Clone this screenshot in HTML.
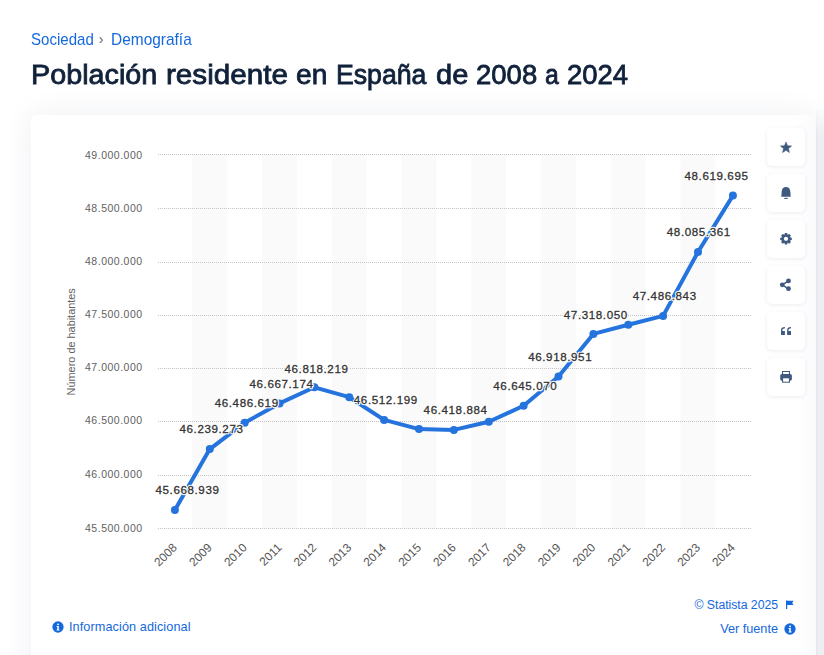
<!DOCTYPE html>
<html><head><meta charset="utf-8"><style>
html,body{margin:0;padding:0;background:#fff;width:824px;height:655px;overflow:hidden;position:relative;font-family:"Liberation Sans",sans-serif;}
.crumb{position:absolute;left:0;top:0;width:300px;height:60px;font-size:16.2px;color:#1468de;white-space:nowrap;line-height:20px}
.crumb span{position:absolute;top:28.5px;transform-origin:0 0}
.crumb .w1{left:31px;transform:scaleX(0.93)}
.crumb .w2{left:110.8px;transform:scaleX(0.955)}
.crumb .sep{left:98.8px;top:29.4px;color:#5a6270;font-size:14px}
.title{position:absolute;left:0;top:59.0px;width:824px;height:32px;font-size:27px;color:#10213a;-webkit-text-stroke:0.8px #10213a;white-space:nowrap;line-height:32px}
.title span{position:absolute;top:0;transform-origin:0 0}
.rstrip{position:absolute;left:816px;top:108px;width:8px;height:547px;-webkit-mask-image:linear-gradient(to bottom,transparent,#000 28px);background:linear-gradient(to right,#e3e5ea,#eceef2 2.5px,#eeeff3)}
.card{position:absolute;left:31px;top:115px;width:785px;height:600px;background:#fff;border-radius:5px;box-shadow:0 0 30px rgba(30,45,80,0.075)}
.fade{position:absolute;left:765px;top:0;width:20px;height:600px;background:linear-gradient(to right,rgba(246,247,250,0),rgba(246,247,250,.6));border-radius:0 5px 0 0}
.btn{position:absolute;left:767px;width:38px;height:38px;background:#fff;border-radius:5px;box-shadow:0 1px 4px rgba(30,45,80,0.09)}
.btn svg{position:absolute;left:0;top:0}
svg text{font-family:"Liberation Sans",sans-serif}
.yl{font-size:10.5px;fill:#616161;letter-spacing:0.5px}
.yt{font-size:10.9px;fill:#616161}
.xl{font-size:11.9px;fill:#555}
.dlo{font-size:11.6px;letter-spacing:0.6px;fill:#fff;stroke:#fff;stroke-width:2.4px;stroke-linejoin:round}
.dl{font-size:11.6px;letter-spacing:0.6px;fill:#333;stroke:#333;stroke-width:0.3px}
.foot{position:absolute;font-size:12.7px;color:#1468de;white-space:nowrap;line-height:16px}
</style></head><body>
<div class="crumb"><span class="w1">Sociedad</span><span class="sep">›</span><span class="w2">Demografía</span></div>
<div class="title"><span style="left:30.72px;transform:scaleX(1.0647)">Población</span><span style="left:166.31px;transform:scaleX(1.0973)">residente</span><span style="left:296.36px;transform:scaleX(1.0432)">en</span><span style="left:336.02px;transform:scaleX(0.9878)">España</span><span style="left:435.92px;transform:scaleX(1.0764)">de</span><span style="left:475.98px;transform:scaleX(1.0188)">2008</span><span style="left:544.60px;transform:scaleX(0.9200)">a</span><span style="left:566.98px;transform:scaleX(1.0169)">2024</span></div>
<div class="card">
<div class="fade"></div>
</div>
<div class="rstrip"></div>
<svg width="824" height="655" style="position:absolute;left:0;top:0">
<defs><pattern id="dots" x="158" y="0" width="2" height="1" patternUnits="userSpaceOnUse"><rect width="1" height="1" fill="#c4c4c4"/></pattern></defs>
<rect x="192.27" y="154" width="34.87" height="374" fill="#fafafa"/>
<rect x="262.01" y="154" width="34.87" height="374" fill="#fafafa"/>
<rect x="331.75" y="154" width="34.87" height="374" fill="#fafafa"/>
<rect x="401.49" y="154" width="34.87" height="374" fill="#fafafa"/>
<rect x="471.23" y="154" width="34.87" height="374" fill="#fafafa"/>
<rect x="540.97" y="154" width="34.87" height="374" fill="#fafafa"/>
<rect x="610.71" y="154" width="34.87" height="374" fill="#fafafa"/>
<rect x="680.45" y="154" width="34.87" height="374" fill="#fafafa"/>
<rect x="158" y="154" width="593" height="1" fill="url(#dots)"/>
<rect x="158" y="208" width="593" height="1" fill="url(#dots)"/>
<rect x="158" y="262" width="593" height="1" fill="url(#dots)"/>
<rect x="158" y="315" width="593" height="1" fill="url(#dots)"/>
<rect x="158" y="368" width="593" height="1" fill="url(#dots)"/>
<rect x="158" y="421" width="593" height="1" fill="url(#dots)"/>
<rect x="158" y="475" width="593" height="1" fill="url(#dots)"/>
<rect x="158" y="528" width="593" height="1" fill="url(#dots)"/>
<text x="142.6" y="159.0" text-anchor="end" class="yl">49.000.000</text>
<text x="142.6" y="212.2" text-anchor="end" class="yl">48.500.000</text>
<text x="142.6" y="265.4" text-anchor="end" class="yl">48.000.000</text>
<text x="142.6" y="318.2" text-anchor="end" class="yl">47.500.000</text>
<text x="142.6" y="371.2" text-anchor="end" class="yl">47.000.000</text>
<text x="142.6" y="424.4" text-anchor="end" class="yl">46.500.000</text>
<text x="142.6" y="478.0" text-anchor="end" class="yl">46.000.000</text>
<text x="142.6" y="532.0" text-anchor="end" class="yl">45.500.000</text>
<text transform="translate(75.3,341.8) rotate(-90)" text-anchor="middle" class="yt">Número de habitantes</text>
<text transform="translate(177.8,548.4) rotate(-45)" text-anchor="end" class="xl">2008</text>
<text transform="translate(212.7,548.4) rotate(-45)" text-anchor="end" class="xl">2009</text>
<text transform="translate(247.6,548.4) rotate(-45)" text-anchor="end" class="xl">2010</text>
<text transform="translate(282.4,548.4) rotate(-45)" text-anchor="end" class="xl">2011</text>
<text transform="translate(317.3,548.4) rotate(-45)" text-anchor="end" class="xl">2012</text>
<text transform="translate(352.2,548.4) rotate(-45)" text-anchor="end" class="xl">2013</text>
<text transform="translate(387.0,548.4) rotate(-45)" text-anchor="end" class="xl">2014</text>
<text transform="translate(421.9,548.4) rotate(-45)" text-anchor="end" class="xl">2015</text>
<text transform="translate(456.8,548.4) rotate(-45)" text-anchor="end" class="xl">2016</text>
<text transform="translate(491.7,548.4) rotate(-45)" text-anchor="end" class="xl">2017</text>
<text transform="translate(526.5,548.4) rotate(-45)" text-anchor="end" class="xl">2018</text>
<text transform="translate(561.4,548.4) rotate(-45)" text-anchor="end" class="xl">2019</text>
<text transform="translate(596.3,548.4) rotate(-45)" text-anchor="end" class="xl">2020</text>
<text transform="translate(631.2,548.4) rotate(-45)" text-anchor="end" class="xl">2021</text>
<text transform="translate(666.0,548.4) rotate(-45)" text-anchor="end" class="xl">2022</text>
<text transform="translate(700.9,548.4) rotate(-45)" text-anchor="end" class="xl">2023</text>
<text transform="translate(735.8,548.4) rotate(-45)" text-anchor="end" class="xl">2024</text>
<path d="M174.9 510.0 L209.8 449.1 L244.7 422.7 L279.5 403.4 L314.4 387.3 L349.3 397.2 L384.1 419.9 L419.0 429.1 L453.9 429.9 L488.8 421.8 L523.6 405.8 L558.5 376.5 L593.4 333.9 L628.3 324.7 L663.1 315.9 L698.0 252.0 L732.9 195.6" fill="none" stroke="#2573dc" stroke-width="4" stroke-linejoin="round" stroke-linecap="round"/>
<circle cx="174.9" cy="510.0" r="4" fill="#2573dc"/>
<circle cx="209.8" cy="449.1" r="4" fill="#2573dc"/>
<circle cx="244.7" cy="422.7" r="4" fill="#2573dc"/>
<circle cx="279.5" cy="403.4" r="4" fill="#2573dc"/>
<circle cx="314.4" cy="387.3" r="4" fill="#2573dc"/>
<circle cx="349.3" cy="397.2" r="4" fill="#2573dc"/>
<circle cx="384.1" cy="419.9" r="4" fill="#2573dc"/>
<circle cx="419.0" cy="429.1" r="4" fill="#2573dc"/>
<circle cx="453.9" cy="429.9" r="4" fill="#2573dc"/>
<circle cx="488.8" cy="421.8" r="4" fill="#2573dc"/>
<circle cx="523.6" cy="405.8" r="4" fill="#2573dc"/>
<circle cx="558.5" cy="376.5" r="4" fill="#2573dc"/>
<circle cx="593.4" cy="333.9" r="4" fill="#2573dc"/>
<circle cx="628.3" cy="324.7" r="4" fill="#2573dc"/>
<circle cx="663.1" cy="315.9" r="4" fill="#2573dc"/>
<circle cx="698.0" cy="252.0" r="4" fill="#2573dc"/>
<circle cx="732.9" cy="195.6" r="4" fill="#2573dc"/>
<text x="187.5" y="494.1" text-anchor="middle" class="dlo">45.668.939</text>
<text x="211.5" y="433.2" text-anchor="middle" class="dlo">46.239.273</text>
<text x="246.7" y="407.2" text-anchor="middle" class="dlo">46.486.619</text>
<text x="281.5" y="388.3" text-anchor="middle" class="dlo">46.667.174</text>
<text x="316.5" y="372.5" text-anchor="middle" class="dlo">46.818.219</text>
<text x="385.8" y="404.3" text-anchor="middle" class="dlo">46.512.199</text>
<text x="455.6" y="414.2" text-anchor="middle" class="dlo">46.418.884</text>
<text x="525.3" y="390.4" text-anchor="middle" class="dlo">46.645.070</text>
<text x="560.2" y="361.3" text-anchor="middle" class="dlo">46.918.951</text>
<text x="595.8" y="318.5" text-anchor="middle" class="dlo">47.318.050</text>
<text x="664.7" y="299.8" text-anchor="middle" class="dlo">47.486.843</text>
<text x="698.8" y="235.9" text-anchor="middle" class="dlo">48.085.361</text>
<text x="716.5" y="180.2" text-anchor="middle" class="dlo">48.619.695</text>
<text x="187.5" y="494.1" text-anchor="middle" class="dl">45.668.939</text>
<text x="211.5" y="433.2" text-anchor="middle" class="dl">46.239.273</text>
<text x="246.7" y="407.2" text-anchor="middle" class="dl">46.486.619</text>
<text x="281.5" y="388.3" text-anchor="middle" class="dl">46.667.174</text>
<text x="316.5" y="372.5" text-anchor="middle" class="dl">46.818.219</text>
<text x="385.8" y="404.3" text-anchor="middle" class="dl">46.512.199</text>
<text x="455.6" y="414.2" text-anchor="middle" class="dl">46.418.884</text>
<text x="525.3" y="390.4" text-anchor="middle" class="dl">46.645.070</text>
<text x="560.2" y="361.3" text-anchor="middle" class="dl">46.918.951</text>
<text x="595.8" y="318.5" text-anchor="middle" class="dl">47.318.050</text>
<text x="664.7" y="299.8" text-anchor="middle" class="dl">47.486.843</text>
<text x="698.8" y="235.9" text-anchor="middle" class="dl">48.085.361</text>
<text x="716.5" y="180.2" text-anchor="middle" class="dl">48.619.695</text>
</svg>
<div class="btn" style="top:128px"><svg width="38" height="38" viewBox="0 0 38 38"><path d="M19.00 14.00 L20.50 17.74 L24.52 18.01 L21.43 20.59 L22.41 24.49 L19.00 22.35 L15.59 24.49 L16.57 20.59 L13.48 18.01 L17.50 17.74Z" fill="#3e5a7e" stroke="#3e5a7e" stroke-width="0.6" stroke-linejoin="round"/></svg></div><div class="btn" style="top:174px"><svg width="38" height="38" viewBox="0 0 38 38"><path d="M14.3 22.7 L14.7 17.2 C14.9 14.4 16.7 12.9 19 12.9 C21.3 12.9 23.1 14.4 23.3 17.2 L23.7 22.7 Z" fill="#3e5a7e"/><ellipse cx="19" cy="24.4" rx="1.9" ry="0.6" fill="#3e5a7e"/></svg></div><div class="btn" style="top:220px"><svg width="38" height="38" viewBox="0 0 38 38"><path d="M17.41 14.81 L17.83 13.02 L20.17 13.02 L20.59 14.81 L20.70 14.85 L22.26 13.88 L23.92 15.54 L22.95 17.10 L22.99 17.21 L24.78 17.63 L24.78 19.97 L22.99 20.39 L22.95 20.50 L23.92 22.06 L22.26 23.72 L20.70 22.75 L20.59 22.79 L20.17 24.58 L17.83 24.58 L17.41 22.79 L17.30 22.75 L15.74 23.72 L14.08 22.06 L15.05 20.50 L15.01 20.39 L13.22 19.97 L13.22 17.63 L15.01 17.21 L15.05 17.10 L14.08 15.54 L15.74 13.88 L17.30 14.85Z M19 16.65 A2.15 2.15 0 1 0 19 20.95 A2.15 2.15 0 1 0 19 16.65Z" fill="#3e5a7e" fill-rule="evenodd"/></svg></div><div class="btn" style="top:266px"><svg width="38" height="38" viewBox="0 0 38 38"><path d="M15.2 18.8 L21.5 14.8 M15.2 18.8 L21.5 22.8" stroke="#3e5a7e" stroke-width="1.5"/><circle cx="21.5" cy="14.9" r="2.4" fill="#3e5a7e"/><circle cx="15.3" cy="18.8" r="2.4" fill="#3e5a7e"/><circle cx="21.5" cy="22.7" r="2.4" fill="#3e5a7e"/></svg></div><div class="btn" style="top:312px"><svg width="38" height="38" viewBox="0 0 38 38"><path d="M14.0 23 L14.0 18.2 C14.0 16.2 15.4 15 17.9 15 L17.9 16.3 C16.4 16.3 15.25 17.2 15.25 19 L17.9 19 L17.9 23 Z" fill="#3e5a7e"/><path d="M20.1 23 L20.1 18.2 C20.1 16.2 21.5 15 24.0 15 L24.0 16.3 C22.5 16.3 21.35 17.2 21.35 19 L24.0 19 L24.0 23 Z" fill="#3e5a7e"/></svg></div><div class="btn" style="top:358px"><svg width="38" height="38" viewBox="0 0 38 38"><path d="M15 13 H23 V16.5 H15Z M16.1 14 V16.1 H21.9 V14Z" fill="#3e5a7e" fill-rule="evenodd"/><rect x="13.2" y="16.1" width="11.7" height="6.6" rx="1.6" fill="#3e5a7e"/><rect x="15" y="19.3" width="8" height="5.4" fill="#3e5a7e"/><rect x="16.1" y="20.3" width="5.8" height="3.4" fill="#fff"/></svg></div>
<div class="foot" style="left:69px;top:619px;letter-spacing:0.08px">Información adicional</div><svg width="12" height="12" viewBox="0 0 12 12" style="position:absolute;left:51.5px;top:621.2px"><circle cx="6" cy="6" r="5.65" fill="#1468de"/><path d="M4.6 5.1 H6.8 V8.6 H7.5 V9.4 H4.6 V8.6 H5.3 V5.9 H4.6Z" fill="#fff"/><circle cx="6.05" cy="3.35" r="0.95" fill="#fff"/></svg>
<div class="foot" style="right:46px;top:597px;font-size:12.3px;letter-spacing:-0.05px">© Statista 2025</div><svg width="10" height="10" viewBox="0 0 10 10" style="position:absolute;left:785px;top:600px"><rect x="1" y="0.5" width="1.2" height="8.5" fill="#1468de"/><path d="M2 0.8 H8.6 L7.2 2.9 L8.6 5 H2Z" fill="#1468de"/></svg>
<div class="foot" style="right:46px;top:621px">Ver fuente</div><svg width="12" height="12" viewBox="0 0 12 12" style="position:absolute;left:783.6px;top:622.5px"><circle cx="6" cy="6" r="5.65" fill="#1468de"/><path d="M4.6 5.1 H6.8 V8.6 H7.5 V9.4 H4.6 V8.6 H5.3 V5.9 H4.6Z" fill="#fff"/><circle cx="6.05" cy="3.35" r="0.95" fill="#fff"/></svg>
</body></html>
